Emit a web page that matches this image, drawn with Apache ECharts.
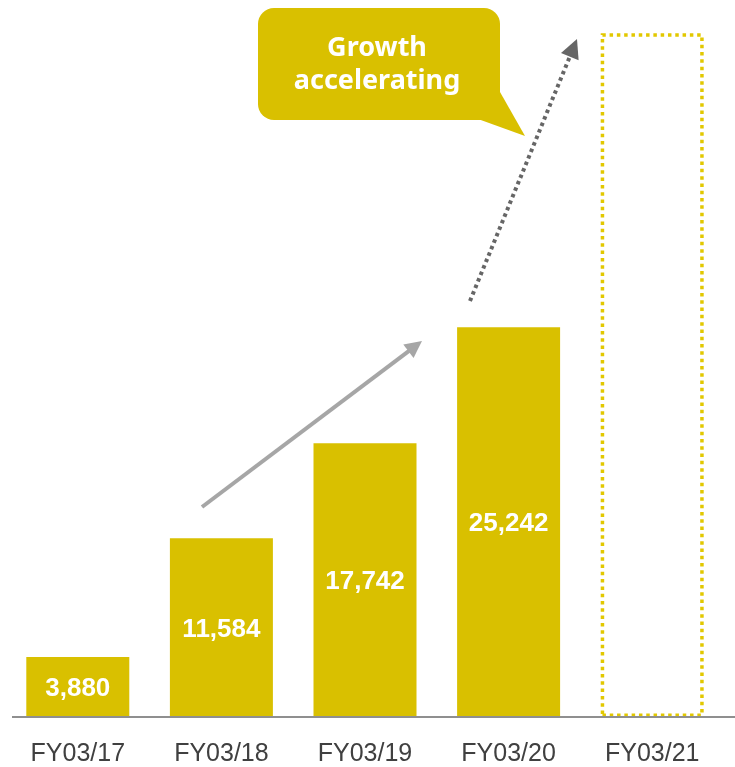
<!DOCTYPE html>
<html><head><meta charset="utf-8">
<script src="https://cdn.jsdelivr.net/npm/echarts@6/dist/echarts.min.js"></script>
<style>html,body{margin:0;padding:0;background:#fff}#c{width:735px;height:767px}</style>
</head><body><div id="c"></div>
<script>
const categories = ['FY03/17', 'FY03/18', 'FY03/19', 'FY03/20', 'FY03/21'];
const values = [3880, 11584, 17742, 25242, 44300];
const valueLabels = ['3,880', '11,584', '17,742', '25,242', ''];
const isForecast = [false, false, false, false, true];
const calloutLines = ['Growth', 'accelerating'];

const YELLOW = '#D9C000';
const chart = echarts.init(document.getElementById('c'), null, {renderer: 'canvas'});

const data = values.map((v, i) => isForecast[i] ? {
  value: v,
  itemStyle: {color: 'rgba(0,0,0,0)', borderColor: '#E2C800', borderWidth: 3.5, borderType: [3.5, 3.8]},
  label: {show: false}
} : {value: v, label: {formatter: valueLabels[i]}});

function arrow(x1, y1, x2, y2, color, width, dash, headLen, headHalf) {
  const dx = x2 - x1, dy = y2 - y1, len = Math.hypot(dx, dy);
  const ux = dx / len, uy = dy / len, px = -uy, py = ux;
  const bx = x2 - ux * headLen, by = y2 - uy * headLen;
  const ex = x2 - ux * (headLen - 2), ey = y2 - uy * (headLen - 2);
  return [
    {type: 'line', shape: {x1: x1, y1: y1, x2: ex, y2: ey}, style: {stroke: color, lineWidth: width, lineDash: dash}, z: 10},
    {type: 'polygon', shape: {points: [[x2, y2], [bx + px * headHalf, by + py * headHalf], [bx - px * headHalf, by - py * headHalf]]}, style: {fill: color}, z: 10}
  ];
}

chart.setOption({
  animation: false,
  backgroundColor: '#fff',
  grid: {left: 6, width: 718, top: 0, height: 720, containLabel: false},
  xAxis: {
    type: 'category', data: categories,
    axisLine: {show: false},
    axisTick: {show: false},
    axisLabel: {color: '#404040', fontSize: 25, fontFamily: 'Liberation Sans, Arial, sans-serif', margin: 25}
  },
  yAxis: {type: 'value', min: 0, max: 46450, show: false, splitLine: {show: false}},
  series: [{
    type: 'bar', data: data, barWidth: 103,
    itemStyle: {color: YELLOW},
    label: {show: true, position: 'inside', offset: [0, 2], color: '#fff', fontSize: 26, fontWeight: 'bold', fontFamily: 'Liberation Sans, Arial, sans-serif'}
  }]
});

const base = chart.convertToPixel({gridIndex: 0}, [0, 0]);
const baseY = base[1];
const graphics = [
  {type: 'line', shape: {x1: 12, y1: baseY, x2: 735, y2: baseY}, style: {stroke: '#8F8F8F', lineWidth: 2}, z: 5},
  {type: 'rect', shape: {x: 258, y: 8, width: 242, height: 112, r: 16}, style: {fill: YELLOW}, z: 10},
  {type: 'polygon', shape: {points: [[478, 119], [525, 136], [500, 92]]}, style: {fill: YELLOW}, z: 10},
  {type: 'text', x: 377, y: 65, style: {text: calloutLines.join('\n'), fill: '#fff', font: 'bold 27px "Noto Sans", sans-serif', align: 'center', verticalAlign: 'middle', lineHeight: 33}, z: 11}
].concat(
  arrow(202, 507, 422, 341, '#A6A6A6', 4, null, 17, 8.5),
  arrow(470, 301, 577, 39, '#666666', 4, [3.5, 3.5], 19, 9.5)
);
chart.setOption({graphic: graphics});
</script>
</body></html>
